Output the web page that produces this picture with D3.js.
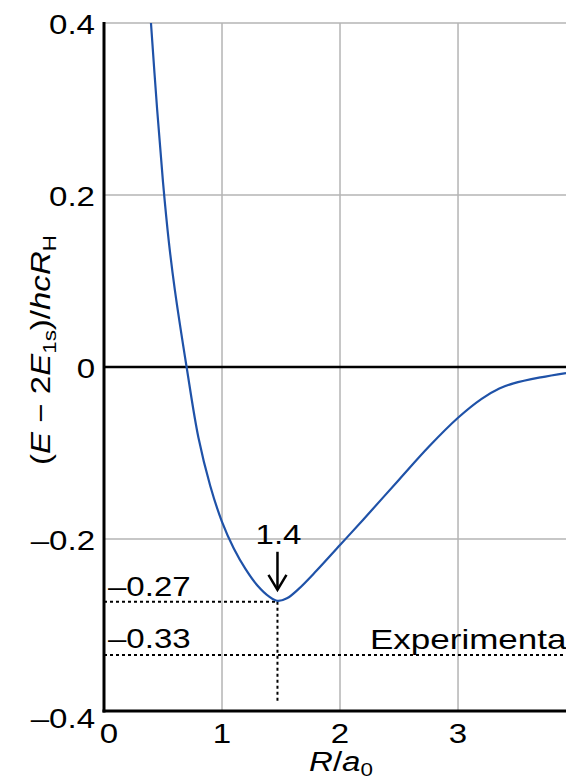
<!DOCTYPE html>
<html>
  <head>
    <meta charset="utf-8">
    <title>H2 potential energy curve</title>
    <script src="https://d3js.org/d3.v7.min.js"></script>
    <style>
      body { margin: 0; background: #fff; }
      text { font-family: "Liberation Sans", Arial, sans-serif; fill: #000; }
    </style>
  </head>
  <body>
    <svg id="chart" width="566" height="781"></svg>
    <script>
      // curve: R/a0 and (E - 2E1s)/hcRH
      const rValues = [0.398, 0.45, 0.50, 0.55, 0.60, 0.70, 0.80, 0.90, 1.00, 1.10, 1.20, 1.30, 1.40, 1.47,
                       1.55, 1.65, 1.80, 2.00, 2.20, 2.50, 2.75, 3.00, 3.20, 3.35, 3.47, 3.70, 3.915];
      const eValues = [0.40, 0.30, 0.215, 0.145, 0.09, 0.0, -0.082, -0.138, -0.180, -0.211, -0.235, -0.254, -0.267, -0.272,
                       -0.269, -0.258, -0.237, -0.207, -0.177, -0.131, -0.093, -0.059, -0.037, -0.025, -0.019, -0.012, -0.007];
      // ticks
      const xTicks = [0, 1, 2, 3];
      const xTickLabels = ["0", "1", "2", "3"];
      const yTicks = [0.4, 0.2, 0, -0.2, -0.4];
      const yTickLabels = ["0.4", "0.2", "0", "\u20130.2", "\u20130.4"];
      const gridY = [0.4, 0.2, -0.2];
      // annotations
      const minR = 1.47;
      const minE = -0.273;
      const minLabel = "1.4";
      const minELabel = "\u20130.27";
      const expE = -0.335;
      const expELabel = "\u20130.33";
      const expText = "Experimenta";   // cut at the frame edge in the original

      const width = 566, height = 781;
      const stretch = 1.18;   // the reference font is wide
      const svg = d3.select("#chart");

      const x = d3.scaleLinear().domain([0, 3.915]).range([104, width]);
      const y = d3.scaleLinear().domain([-0.4, 0.4]).range([711, 23]);

      // stretched text helper
      function label(px, py, anchor, sx) {
        return svg.append("g")
          .attr("transform", "translate(" + px + "," + py + ") scale(" + (sx || stretch) + ",1)")
          .append("text")
          .attr("text-anchor", anchor)
          .style("font-size", "28px");
      }

      // grid
      svg.selectAll(".vgrid")
          .data(xTicks.slice(1))
        .enter().append("line")
          .attr("x1", d => x(d)).attr("x2", d => x(d))
          .attr("y1", y(0.4)).attr("y2", y(-0.4))
          .attr("stroke", "#b4b4b4").attr("stroke-width", 1.5);
      svg.selectAll(".hgrid")
          .data(gridY)
        .enter().append("line")
          .attr("x1", x(0)).attr("x2", width)
          .attr("y1", d => y(d)).attr("y2", d => y(d))
          .attr("stroke", "#b4b4b4").attr("stroke-width", 1.5);
      // zero line
      svg.append("line")
        .attr("x1", x(0)).attr("x2", width)
        .attr("y1", y(0)).attr("y2", y(0))
        .attr("stroke", "#000").attr("stroke-width", 2.5);

      // dotted guides
      const guides = [
        [x(0), y(minE), x(minR), y(minE)],
        [x(0), y(expE), width, y(expE)],
        [x(minR), y(minE), x(minR), y(-0.388)]
      ];
      guides.forEach(g => {
        svg.append("line")
          .attr("x1", g[0]).attr("y1", g[1]).attr("x2", g[2]).attr("y2", g[3])
          .attr("stroke", "#000").attr("stroke-width", 2)
          .attr("stroke-dasharray", "3,3");
      });

      // curve
      svg.append("clipPath").attr("id", "plot")
        .append("rect").attr("x", x(0)).attr("y", y(0.4))
        .attr("width", width - x(0)).attr("height", y(-0.4) - y(0.4));
      const line = d3.line()
        .x((d, i) => x(rValues[i]))
        .y(d => y(d))
        .curve(d3.curveCatmullRom.alpha(0.5));
      svg.append("path")
        .attr("clip-path", "url(#plot)")
        .attr("d", line(eValues))
        .attr("fill", "none")
        .attr("stroke", "#1f52a8")
        .attr("stroke-width", 2.2);

      // axes
      svg.append("line")
        .attr("x1", x(0)).attr("x2", x(0))
        .attr("y1", y(0.4) - 1).attr("y2", y(-0.4) + 1.5)
        .attr("stroke", "#000").attr("stroke-width", 3);
      svg.append("line")
        .attr("x1", x(0) - 1.5).attr("x2", width)
        .attr("y1", y(-0.4)).attr("y2", y(-0.4))
        .attr("stroke", "#000").attr("stroke-width", 3);

      // tick labels
      yTicks.forEach((t, i) => {
        label(95, y(t) + (t === -0.4 ? 17 : 11), "end").text(yTickLabels[i]);
      });
      xTicks.forEach((t, i) => {
        label(x(t) + (t === 0 ? 5 : 0), 743, "middle").text(xTickLabels[i]);
      });

      // axis titles
      const xt = label(341, 771, "middle");
      xt.append("tspan").style("font-style", "italic").text("R");
      xt.append("tspan").text("/");
      xt.append("tspan").style("font-style", "italic").text("a");
      xt.append("tspan").attr("dy", 5).style("font-size", "19px").text("0");

      const yg = svg.append("g")
        .attr("transform", "translate(50,350) rotate(-90) scale(" + stretch + ",1)");
      const yt = yg.append("text").attr("text-anchor", "middle").style("font-size", "28px");
      yt.append("tspan").text("(");
      yt.append("tspan").style("font-style", "italic").text("E");
      yt.append("tspan").text(" \u2212 2");
      yt.append("tspan").style("font-style", "italic").text("E");
      yt.append("tspan").attr("dy", 6).style("font-size", "19px").text("1s");
      yt.append("tspan").attr("dy", -6).text(")/");
      yt.append("tspan").style("font-style", "italic").text("hcR");
      yt.append("tspan").attr("dy", 6).style("font-size", "19px").text("H");

      // annotations
      label(x(minR) + 1, y(minE) - 58, "middle").text(minLabel);
      const tipY = y(minE) - 12;
      svg.append("line")
        .attr("x1", x(minR)).attr("x2", x(minR))
        .attr("y1", tipY - 38).attr("y2", tipY)
        .attr("stroke", "#000").attr("stroke-width", 2.5);
      svg.append("path")
        .attr("d", d3.line()([[x(minR) - 9, tipY - 15], [x(minR), tipY], [x(minR) + 9, tipY - 15]]))
        .attr("fill", "none").attr("stroke", "#000").attr("stroke-width", 2.5);

      label(108, y(minE) - 6, "start").text(minELabel);
      label(108, y(expE) - 7, "start").text(expELabel);
      label(370, y(expE) - 6, "start", 1.25).text(expText);
    </script>
  </body>
</html>
